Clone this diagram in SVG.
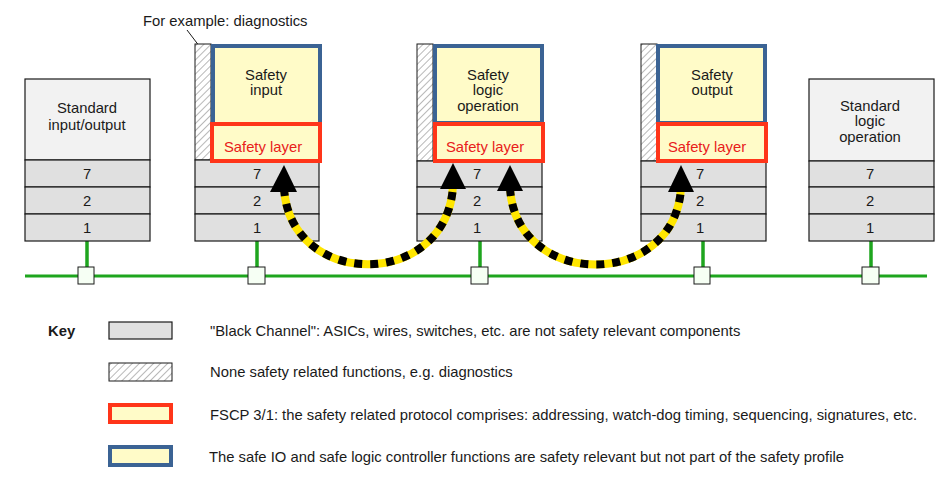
<svg xmlns="http://www.w3.org/2000/svg" width="945" height="481" viewBox="0 0 945 481">
<defs>
<pattern id="hatch" patternUnits="userSpaceOnUse" width="5" height="5" patternTransform="rotate(45)">
<rect width="5" height="5" fill="#ffffff"/>
<line x1="0" y1="0" x2="0" y2="5" stroke="#9a9a9a" stroke-width="1.4"/>
</pattern>
<style>
text{font-family:"Liberation Sans",Arial,sans-serif;font-size:14.8px;fill:#1a1a1a}
.c{text-anchor:middle}
.std{fill:#f2f2f2;stroke:#1a1a1a;stroke-width:1.2}
.row{fill:#e0e0e0;stroke:#1a1a1a;stroke-width:1.2}
.hat{fill:url(#hatch);stroke:#1a1a1a;stroke-width:1}
.blue{fill:#fffbc8;stroke:#3b6394;stroke-width:4}
.red{fill:#fffbc8;stroke:#ff3519;stroke-width:4}
.sl{fill:#e8201a}
.stem{stroke:#1ea51e;stroke-width:3.5;fill:none}
.bus{stroke:#1ea51e;stroke-width:3;fill:none}
.sq{fill:#f6fff4;stroke:#1a1a1a;stroke-width:1}
.ay{fill:none;stroke:#ffe600;stroke-width:8}
.ab{fill:none;stroke:#000;stroke-width:8;stroke-dasharray:8 8}
</style>
</defs>
<rect width="945" height="481" fill="#ffffff"/>

<g id="connectors">
<line class="bus" x1="25" y1="276" x2="927" y2="276"/>
<line class="stem" x1="87" y1="241" x2="87" y2="268"/>
<line class="stem" x1="257" y1="241" x2="257" y2="268"/>
<line class="stem" x1="480" y1="241" x2="480" y2="268"/>
<line class="stem" x1="703" y1="241" x2="703" y2="268"/>
<line class="stem" x1="871" y1="241" x2="871" y2="268"/>
<rect class="sq" x="78" y="267" width="16" height="17"/>
<rect class="sq" x="248" y="267" width="17" height="17"/>
<rect class="sq" x="471" y="267" width="17" height="17"/>
<rect class="sq" x="694" y="267" width="16" height="17"/>
<rect class="sq" x="862" y="267" width="17" height="17"/>
<line x1="187" y1="30" x2="203" y2="51" stroke="#1a1a1a" stroke-width="1"/>
</g>

<g id="node-standard-io">
<rect class="std" x="25" y="79" width="125" height="81"/>
<rect class="row" x="25" y="160" width="125" height="27"/>
<rect class="row" x="25" y="187" width="125" height="27"/>
<rect class="row" x="25" y="214" width="125" height="27"/>
<text class="c" x="87" y="113">Standard</text>
<text class="c" x="87" y="130">input/output</text>
<text class="c" x="87" y="179">7</text>
<text class="c" x="87" y="206">2</text>
<text class="c" x="87" y="233">1</text>
</g>

<g id="node-safety-input">
<rect class="hat" x="195" y="44" width="16" height="116"/>
<rect class="row" x="195" y="160" width="124" height="27"/>
<rect class="row" x="195" y="187" width="124" height="27"/>
<rect class="row" x="195" y="214" width="124" height="27"/>
<rect class="blue" x="213" y="46" width="107" height="78"/>
<rect class="red" x="212" y="124" width="108" height="37"/>
<text class="c" x="266" y="80">Safety</text>
<text class="c" x="266" y="95">input</text>
<text class="c sl" x="263" y="152">Safety layer</text>
<text class="c" x="257" y="179">7</text>
<text class="c" x="257" y="206">2</text>
<text class="c" x="257" y="233">1</text>
</g>

<g id="node-safety-logic">
<rect class="hat" x="417" y="44" width="16" height="117"/>
<rect class="row" x="417" y="161" width="125" height="26"/>
<rect class="row" x="417" y="187" width="125" height="27"/>
<rect class="row" x="417" y="214" width="125" height="27"/>
<rect class="blue" x="435" y="46" width="107" height="77"/>
<rect class="red" x="435" y="124" width="108" height="37"/>
<text class="c" x="488" y="80">Safety</text>
<text class="c" x="488" y="95">logic</text>
<text class="c" x="488" y="111">operation</text>
<text class="c sl" x="485" y="152">Safety layer</text>
<text class="c" x="477" y="179">7</text>
<text class="c" x="477" y="206">2</text>
<text class="c" x="477" y="233">1</text>
</g>

<g id="node-safety-output">
<rect class="hat" x="641" y="44" width="16" height="117"/>
<rect class="row" x="641" y="161" width="125" height="26"/>
<rect class="row" x="641" y="187" width="125" height="27"/>
<rect class="row" x="641" y="214" width="125" height="27"/>
<rect class="blue" x="658" y="46" width="107" height="77"/>
<rect class="red" x="658" y="124" width="108" height="37"/>
<text class="c" x="712" y="80">Safety</text>
<text class="c" x="712" y="95">output</text>
<text class="c sl" x="707" y="152">Safety layer</text>
<text class="c" x="700" y="179">7</text>
<text class="c" x="700" y="206">2</text>
<text class="c" x="700" y="233">1</text>
</g>

<g id="node-standard-logic">
<rect class="std" x="809" y="79" width="125" height="82"/>
<rect class="row" x="809" y="161" width="125" height="26"/>
<rect class="row" x="809" y="187" width="125" height="27"/>
<rect class="row" x="809" y="214" width="125" height="27"/>
<text class="c" x="870" y="111">Standard</text>
<text class="c" x="870" y="126">logic</text>
<text class="c" x="870" y="142">operation</text>
<text class="c" x="870" y="179">7</text>
<text class="c" x="870" y="206">2</text>
<text class="c" x="870" y="233">1</text>
</g>

<g id="safety-arrows">
<path class="ay" d="M284,188 C290,290 447,290 453,186"/>
<path class="ab" d="M284,188 C290,290 447,290 453,186"/>
<polygon points="284,165 297,192 270,192" fill="#000"/>
<polygon points="453,163 466,189 440,189" fill="#000"/>
<path class="ay" d="M510,188 C516,290 675,290 681,188"/>
<path class="ab" d="M510,188 C516,290 675,290 681,188"/>
<polygon points="510,165 523,191 497,191" fill="#000"/>
<polygon points="681,165 694,192 668,192" fill="#000"/>
</g>

<text x="143" y="26">For example: diagnostics</text>

<g id="legend">
<text x="48" y="336" style="font-weight:bold">Key</text>
<rect class="row" x="109" y="322" width="63" height="17"/>
<rect class="hat" x="109" y="363" width="63" height="18"/>
<rect class="red" x="110" y="405" width="61" height="17"/>
<rect class="blue" x="110" y="447" width="61" height="18"/>
<text x="210" y="336">"Black Channel": ASICs, wires, switches, etc. are not safety relevant components</text>
<text x="210" y="377">None safety related functions, e.g. diagnostics</text>
<text x="210" y="420">FSCP 3/1: the safety related protocol comprises: addressing, watch-dog timing, sequencing, signatures, etc.</text>
<text x="209" y="462">The safe IO and safe logic controller functions are safety relevant but not part of the safety profile</text>
</g>
</svg>
